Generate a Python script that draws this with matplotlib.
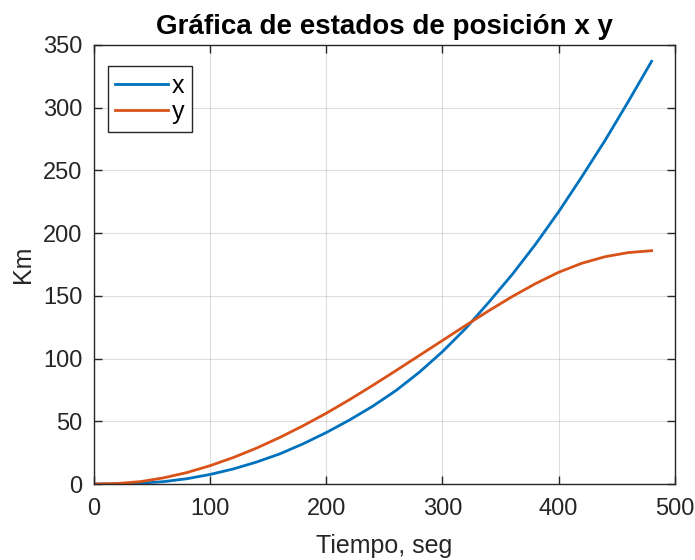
import matplotlib
matplotlib.use("Agg")
import matplotlib.pyplot as plt

# tiempo de muestreo (s) y estados de posición (km)
t = [0, 20, 40, 60, 80, 100, 120, 140, 160, 180, 200, 220, 240,
     260, 280, 300, 320, 340, 360, 380, 400, 420, 440, 460, 480]
pos_x = [0, 0.1, 0.6, 1.9, 4.2, 7.6, 12, 17.5, 24, 32, 41, 51, 62,
         74.5, 89, 105.5, 124, 145, 167, 191, 217, 245, 274, 305, 337]
pos_y = [0, 0.4, 1.9, 4.9, 9.1, 14.6, 21.1, 28.6, 37.1, 46.4, 56.4, 67.2, 78.6,
         90.4, 102.4, 114.4, 126.4, 138.2, 149.4, 159.7, 168.8, 176, 181.2, 184.5, 186]

x_ticks = [0, 100, 200, 300, 400, 500]
y_ticks = [0, 50, 100, 150, 200, 250, 300, 350]

plt.rcParams['font.family'] = ['Liberation Sans', 'DejaVu Sans']
txt = "#262626"

fig = plt.figure(figsize=(6.95, 5.6), dpi=100)
ax = fig.add_axes([0.135, 0.1357, 0.836, 0.784])

ax.plot(t, pos_x, color="#0072BD", linewidth=2, label="x")
ax.plot(t, pos_y, color="#D95319", linewidth=2, label="y")

ax.set_xlim(0, 500)
ax.set_ylim(0, 350)
ax.set_xticks(x_ticks)
ax.set_yticks(y_ticks)
ax.tick_params(direction="in", length=6, width=1, top=True, right=True,
               labelsize=17, colors=txt)
ax.tick_params(axis="x", pad=10)
ax.tick_params(axis="y", pad=8)
ax.grid(True, color="#000000", alpha=0.13, linewidth=0.8)
for s in ax.spines.values():
    s.set_color(txt)
    s.set_linewidth(1)

ax.set_xlabel("Tiempo, seg", fontsize=18, color=txt, labelpad=10)
ax.set_ylabel("Km", fontsize=18, color=txt, labelpad=6)
ax.set_title("Gráfica de estados de posición x y", fontsize=20,
             fontweight="bold", color="#000000", pad=8)

leg = ax.legend(loc="upper left", bbox_to_anchor=(0.024, 0.952),
                borderaxespad=0, fontsize=18, handlelength=2.1,
                handletextpad=0.15, borderpad=0.3, labelspacing=0.1,
                fancybox=False, framealpha=1)
leg.get_frame().set_edgecolor(txt)
leg.get_frame().set_linewidth(1)

fig.savefig("out.png", dpi=100)
